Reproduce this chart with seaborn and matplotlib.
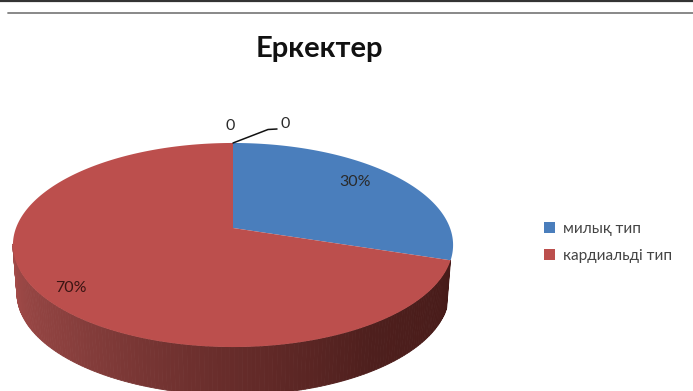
import numpy as np
import matplotlib
matplotlib.use("Agg")
import matplotlib.pyplot as plt
from matplotlib.patches import Patch
import seaborn as sns

title = "Еркектер"
categories = ["милық тип", "кардиальді тип"]
shares = [30, 70]
zero_labels = ["0", "0"]
colors = ["#4a7ebc", "#bc4f4d"]
wall_colors = ["#a34b49", "#8a403e", "#6a2e2c", "#4e1f1d", "#471b19"]

sns.set_theme(style="white")
plt.rcParams["font.family"] = ["Lato", "DejaVu Sans"]

fig = plt.figure(figsize=(6.93, 3.91), dpi=100)
ax = fig.add_axes([0, 0, 1, 1])
ax.set_xlim(0, 693)
ax.set_ylim(391, 0)
ax.axis("off")

CX, CY, RX, RY, K = 233.0, 228.0, 217.0, 99.2, 1 / 6


def project(theta, dy=0.0, scale=1.0):
    u, v = np.sin(theta), np.cos(theta)
    d = 1 + K * v
    return CX + scale * RX * u / d, CY - RY * v / d + dy


edges = np.r_[0, np.cumsum(shares)] / np.sum(shares) * 2 * np.pi

# side wall: the front of the red slice, from the slice boundary to the left extreme
front = np.linspace(edges[1], np.deg2rad(261), 161)
cmap = sns.blend_palette(wall_colors, n_colors=160)
for i in range(160):
    t = front[i:i + 2]
    xt, yt = project(t)
    xb, yb = project(t[::-1], dy=48, scale=0.982)
    ax.fill(np.r_[xt, xb], np.r_[yt, yb], color=cmap[159 - i], lw=0.6, zorder=1)

# top of the pie
for a, b, c in zip(edges[:-1], edges[1:], colors):
    t = np.linspace(a, b, 200)
    x, y = project(t)
    ax.fill(np.r_[CX, x], np.r_[CY, y], color=c, lw=0, zorder=2)

# frame lines of the scan
ax.plot([0, 693], [0.5, 0.5], color="#333333", lw=1.6, zorder=3)
ax.plot([8, 693], [13.3, 13.3], color="#7f7f7f", lw=1.3, zorder=3)

ax.text(319, 48.5, title, ha="center", va="center", fontsize=21,
        fontweight="bold", color="#111111")

tc = "#2a2a2a"
ax.text(355, 182, f"{shares[0]}%", ha="center", va="center", fontsize=11.5, color=tc, zorder=4)
ax.text(71, 288, f"{shares[1]}%", ha="center", va="center", fontsize=11.5, color="#3a1412", zorder=4)
ax.text(230, 125.5, zero_labels[0], ha="center", va="center", fontsize=11.5, color=tc)
ax.text(285, 124, zero_labels[1], ha="center", va="center", fontsize=11.5, color=tc)
ax.plot([233, 268, 277], [143, 129.5, 129], color="#111111", lw=1.1, zorder=4)

handles = [Patch(facecolor=c, edgecolor="none") for c in colors]
ax.legend(handles, categories, loc="center left", bbox_to_anchor=(541 / 693, 1 - 242.5 / 391),
          frameon=False, fontsize=11.1, handlelength=0.72, handleheight=0.72,
          handletextpad=0.5, labelspacing=0.85, borderpad=0.2, borderaxespad=0,
          labelcolor="#444444")

fig.savefig("out.png", dpi=100, facecolor="white")
